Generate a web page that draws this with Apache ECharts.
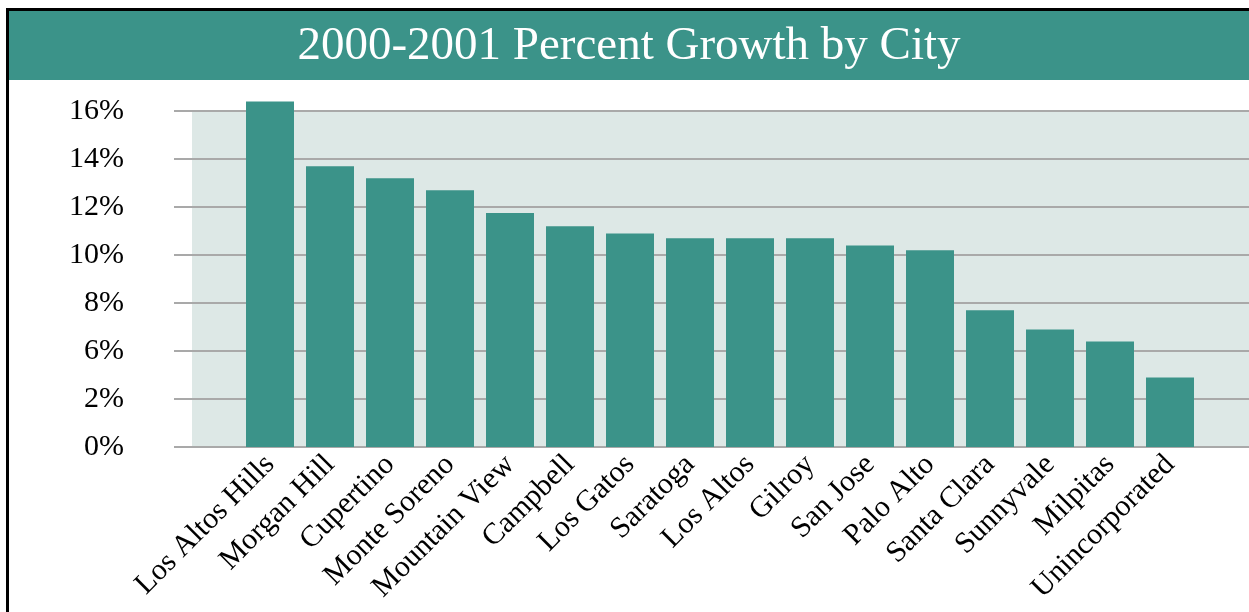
<!DOCTYPE html>
<html>
<head>
<meta charset="utf-8">
<script src="https://cdn.jsdelivr.net/npm/echarts@6/dist/echarts.min.js"></script>
<style>
  html, body { margin: 0; padding: 0; background: #ffffff; }
  #chart { width: 1249px; height: 612px; }
</style>
</head>
<body>
<div id="chart"></div>
<script>
// City names along the category axis
const cities = [
  'Los Altos Hills', 'Morgan Hill', 'Cupertino', 'Monte Soreno', 'Mountain View',
  'Campbell', 'Los Gatos', 'Saratoga', 'Los Altos', 'Gilroy', 'San Jose',
  'Palo Alto', 'Santa Clara', 'Sunnyvale', 'Milpitas', 'Unincorporated'
];
// Percent growth, 2000 to 2001
const growth = [16.4, 13.7, 13.2, 12.7, 11.75, 11.2, 10.9, 10.7, 10.7, 10.7, 10.4, 10.2, 7.7, 6.9, 6.4, 4.9];
// Labels printed at the value-axis gridlines, bottom to top
const yTickLabels = ['0%', '2%', '6%', '8%', '10%', '12%', '14%', '16%'];
const yMin = 2, yMax = 16, yStep = 2;
// headroom above the top gridline so the tallest bar is not cut off
const barHeadroom = 0.5;

const TEAL = '#3b9389';
const PLOT_BG = '#dde8e6';
const SERIF = '"Liberation Serif", "Times New Roman", serif';

const chart = echarts.init(document.getElementById('chart'), null, { renderer: 'canvas' });

const plotTop = 111, plotBottom = 165;
const plotHeight = 612 - plotTop - plotBottom;
const pxPerUnit = plotHeight / (yMax - yMin);

const tickLabel = v => yTickLabels[Math.round((v - yMin) / yStep)] ?? '';

chart.setOption({
  animation: false,
  backgroundColor: '#ffffff',
  graphic: [
    // frame
    { type: 'rect', z: -10, shape: { x: 6, y: 8, width: 1300, height: 700 }, style: { fill: '#000000' } },
    { type: 'rect', z: -9, shape: { x: 9, y: 11, width: 1300, height: 700 }, style: { fill: '#ffffff' } },
    // title banner
    { type: 'rect', z: -8, shape: { x: 9, y: 11, width: 1300, height: 69 }, style: { fill: TEAL } },
    // shaded plot area
    { type: 'rect', z: -8, shape: { x: 192, y: plotTop, width: 1100, height: plotHeight }, style: { fill: PLOT_BG } },
    {
      type: 'text', z: 5, x: 629, y: 47,
      style: {
        text: '2000-2001 Percent Growth by City',
        fill: '#ffffff', font: '47px ' + SERIF,
        textAlign: 'center', textVerticalAlign: 'middle'
      }
    }
  ],
  grid: [
    { left: 174, right: 0, top: plotTop, bottom: plotBottom },
    { left: 240, right: 49, top: plotTop - barHeadroom * pxPerUnit, bottom: plotBottom }
  ],
  xAxis: [
    { gridIndex: 0, type: 'value', show: false },
    {
      gridIndex: 1, type: 'category', data: cities,
      axisLine: { show: false }, axisTick: { show: false },
      axisLabel: {
        rotate: 45, margin: 13, interval: 0,
        color: '#000000', fontFamily: SERIF, fontSize: 30
      }
    }
  ],
  yAxis: [
    {
      gridIndex: 0, type: 'value', min: yMin, max: yMax, interval: yStep,
      axisLine: { show: false }, axisTick: { show: false },
      splitLine: { show: true, lineStyle: { color: '#a9a9a9', width: 2 } },
      axisLabel: {
        margin: 50, color: '#000000', fontFamily: SERIF, fontSize: 30,
        formatter: tickLabel
      }
    },
    {
      gridIndex: 1, type: 'value', min: yMin, max: yMax + barHeadroom,
      show: false, splitLine: { show: false }
    }
  ],
  series: [
    {
      type: 'bar', xAxisIndex: 1, yAxisIndex: 1,
      data: growth, barWidth: 48, clip: true,
      itemStyle: { color: TEAL }
    }
  ]
});
</script>
</body>
</html>
